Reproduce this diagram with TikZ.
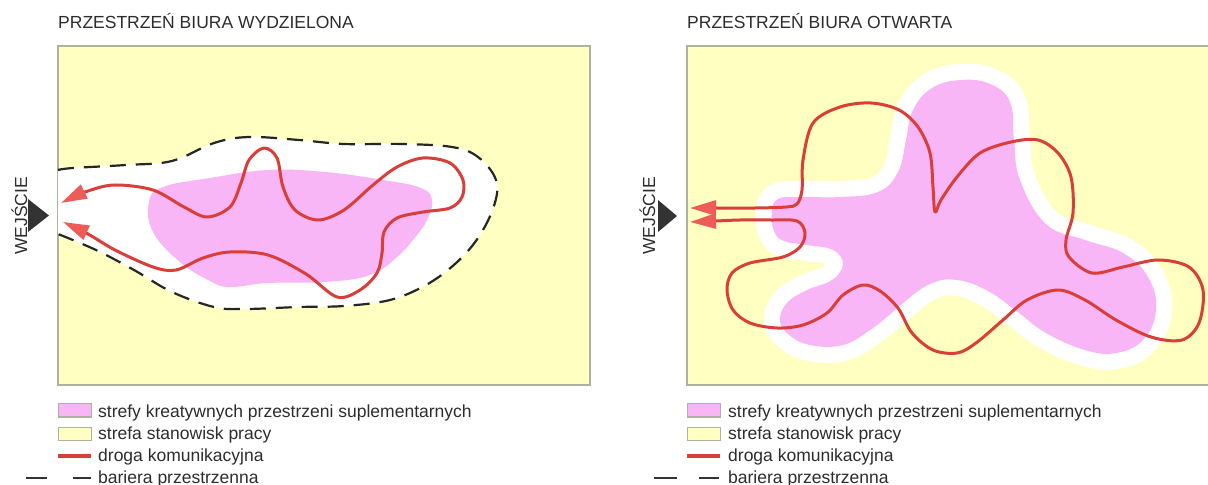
\documentclass[tikz,border=0pt]{standalone}
\usepackage{fontspec}
\setmainfont{Liberation Sans}
\usetikzlibrary{arrows.meta}
\definecolor{ylw}{RGB}{255,255,194}
\definecolor{pnk}{RGB}{248,182,246}
\definecolor{rd}{RGB}{218,62,56}
\definecolor{arr}{RGB}{238,92,90}
\definecolor{frm}{RGB}{175,178,160}
\definecolor{txt}{RGB}{45,45,45}
\begin{document}
\begin{tikzpicture}[x=1bp,y=-1bp,
  panel/.style={fill=ylw, draw=frm, line width=1.3bp},
  blob/.style={fill=pnk},
  halo/.style={draw=white, line width=32bp, line join=round},
  route/.style={draw=rd, line width=3bp, line join=round,
    {Triangle[length=26bp,width=15bp,color=arr]}-{Triangle[length=26bp,width=15bp,color=arr]}},
  barrier/.style={draw=black!85, line width=2.2bp, dash pattern=on 16bp off 10bp},
  swatch/.style={draw=frm, line width=1bp},
  lbl/.style={anchor=base west, inner sep=0pt, text=txt, font=\fontsize{17.5bp}{21bp}\selectfont},
  ttl/.style={anchor=base west, inner sep=0pt, text=txt, font=\fontsize{17.5bp}{21bp}\selectfont},
  entry/.style={anchor=base, rotate=90, inner sep=0pt, text=txt, font=\fontsize{17.5bp}{21bp}\selectfont},
  entrytri/.style={fill=black!80}
]
\useasboundingbox (0,0) rectangle (1208,485);
\fill[white] (0,0) rectangle (1208,485);

% ---------------- LEFT PANEL ----------------
\node[ttl] (t1) at (58,28.5) {PRZESTRZEŃ BIURA WYDZIELONA};
\draw[panel] (58,46) rectangle (590,385);
% white zone inside barrier
\fill[white] plot[smooth, tension=0.6] coordinates {(58,170) (73,168) (126,165) (172,161) (214,143) (249,137) (299,140) (344,144) (402,144) (452,147) (478,157) (496,180) (494,206) (478,238) (455,264) (426,285) (390,300) (344,306) (299,307) (245,309) (214,307) (172,292) (134,270) (96,250) (58,234)} -- cycle;
\draw[barrier] plot[smooth, tension=0.6] coordinates {(58,170) (73,168) (126,165) (172,161) (214,143) (249,137) (299,140) (344,144) (402,144) (452,147) (478,157) (496,180) (494,206) (478,238) (455,264) (426,285) (390,300) (344,306) (299,307) (245,309) (214,307) (172,292) (134,270) (96,250) (58,234)};
% creative zone
\fill[blob] plot[smooth cycle, tension=0.7] coordinates {(149,202) (163,187) (210,178) (268,170) (325,172) (383,180) (421,188) (432,200) (428,218) (417,235) (397,257) (370,275) (325,282) (268,283) (230,287) (210,281) (180,262) (153,232)};
% route
\draw[route] plot[smooth, tension=0.55] coordinates {(61,203) (88,191) (115,185) (153,190) (184,207) (207,217) (230,207) (241,183) (249,160) (264,148) (277,158) (283,187) (295,210) (318,220) (344,210) (373,185) (397,167) (423,158) (450,163) (463,180) (462,197) (450,208) (423,212) (397,218) (384,232) (382,253) (377,273) (360,290) (337,297) (306,274) (268,255) (230,252) (203,258) (176,270) (153,267) (115,250) (88,234) (63,222)};
% entrance
\node[entry] (e1) at (27,216) {WEJŚCIE};
\fill[entrytri] (28,199) -- (49,215.5) -- (28,232) -- cycle;
% legend
\draw[swatch, fill=pnk] (58,404) rectangle (91,417);
\draw[swatch, fill=ylw] (58,427) rectangle (91,440);
\draw[rd, line width=3.5bp] (58,456) -- (91,456);
\draw[black!80, line width=2.2bp] (26,478) -- (47,478) (73,478) -- (91,478);
\node[lbl] (l1) at (98,417.5) {strefy kreatywnych przestrzeni suplementarnych};
\node[lbl] (l2) at (98,439.5) {strefa stanowisk pracy};
\node[lbl] (l3) at (98,461.5) {droga komunikacyjna};
\node[lbl] (l4) at (98,483.5) {bariera przestrzenna};

% ---------------- RIGHT PANEL ----------------
\node[ttl] (t2) at (687,28.5) {PRZESTRZEŃ BIURA OTWARTA};
\draw[panel] (687,46) rectangle (1215,385);
\def\rblob{(778,199) (800,197) (840,197) (878,192) (898,172) (906,140) (913,110) (932,88) (961,80) (990,84) (1010,102) (1014,140) (1020,180) (1046,224) (1085,240) (1123,253) (1148,277) (1156,310) (1143,340) (1116,353) (1085,350) (1046,333) (1019,313) (988,291) (957,280) (930,284) (903,303) (888,316) (870,330) (843,345) (810,345) (788,334) (780,320) (787,303) (807,290) (832,280) (843,264) (833,250) (807,245) (784,241) (774,231) (772,212)}
\draw[halo] plot[smooth cycle, tension=0.7] coordinates {\rblob};
\fill[blob] plot[smooth cycle, tension=0.7] coordinates {\rblob};
\draw[route] plot[smooth, tension=0.55] coordinates {(690,208) (716,208) (755,208) (786,207) (797,204) (802,190) (803,160) (813,123) (840,107) (871,103) (899,110) (918,127) (930,153) (933,187) (935,212) (941,200) (957,177) (980,153) (1011,142) (1038,140) (1058,153) (1071,177) (1073,213) (1066,240) (1069,257) (1092,273) (1123,267) (1158,260) (1189,267) (1203,290) (1199,323) (1182,340) (1151,337) (1116,320) (1085,300) (1058,290) (1027,300) (1003,320) (976,343) (957,353) (933,350) (912,333) (898,308) (880,291) (863,285) (843,295) (827,313) (803,325) (777,328) (750,323) (733,310) (727,290) (732,273) (750,263) (783,257) (800,247) (805,233) (797,221) (770,220) (740,220) (716,221) (690,222)};
\node[entry] (e2) at (655,216) {WEJŚCIE};
\fill[entrytri] (658,200) -- (677,216) -- (658,232) -- cycle;
\draw[swatch, fill=pnk] (687,404) rectangle (720,417);
\draw[swatch, fill=ylw] (687,427) rectangle (720,440);
\draw[rd, line width=3.5bp] (687,456) -- (720,456);
\draw[black!80, line width=2.2bp] (654,478) -- (677,478) (699,478) -- (719,478);
\node[lbl] (r1) at (728,417.5) {strefy kreatywnych przestrzeni suplementarnych};
\node[lbl] (r2) at (728,439.5) {strefa stanowisk pracy};
\node[lbl] (r3) at (728,461.5) {droga komunikacyjna};
\node[lbl] (r4) at (728,483.5) {bariera przestrzenna};
\end{tikzpicture}
\end{document}
